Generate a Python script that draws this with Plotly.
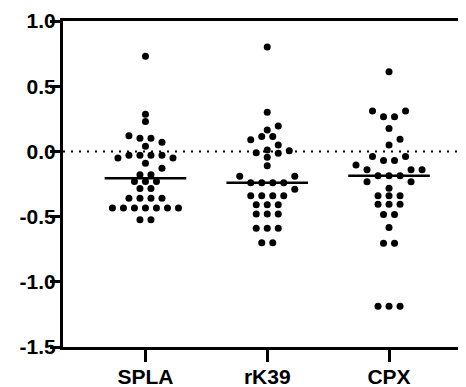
import numpy as np
import plotly.graph_objects as go

categories = ["SPLA", "rK39", "CPX"]

spla = [0.73, 0.285, 0.23, 0.12, 0.10, 0.10, 0.07, 0.04,
        -0.03, -0.03, -0.03, -0.03, -0.05, -0.05, -0.09, -0.13,
        -0.18, -0.18, -0.23, -0.23, -0.23, -0.285, -0.285,
        -0.36, -0.36, -0.36, -0.36,
        -0.435, -0.435, -0.435, -0.435, -0.435, -0.435, -0.435,
        -0.525, -0.525]

rk39 = [0.80, 0.30, 0.195, 0.165, 0.115, 0.115, 0.09, 0.05,
        0.01, 0.005, -0.01, -0.015, -0.045, -0.11, -0.19, -0.19,
        -0.24, -0.24, -0.24, -0.24, -0.29,
        -0.34, -0.34, -0.34, -0.34,
        -0.41, -0.41, -0.41, -0.48, -0.48, -0.48,
        -0.59, -0.59, -0.59, -0.70, -0.70]

cpx = [0.61, 0.31, 0.31, 0.265, 0.265, 0.175, 0.094, 0.05,
       -0.04, -0.04, -0.07, -0.07, -0.105,
       -0.14, -0.14, -0.14, -0.186, -0.186, -0.186,
       -0.232, -0.232, -0.283, -0.34, -0.34, -0.34,
       -0.405, -0.405, -0.405, -0.483, -0.483, -0.583,
       -0.705, -0.705, -1.187, -1.187, -1.187]

y_tick_vals = [-1.5, -1.0, -0.5, 0.0, 0.5, 1.0]
y_tick_text = ["-1.5", "-1.0", "-0.5", "0.0", "0.5", "1.0"]

series = [spla, rk39, cpx]

STEP = 0.0904      # horizontal dot spacing in category units
THR = 0.05         # vertical conflict threshold in data units


def swarm(vals):
    vals = np.asarray(vals, dtype=float)
    groups = {}
    for idx, v in enumerate(vals):
        groups.setdefault(round(v, 4), []).append(idx)
    order = sorted(groups.items(), key=lambda kv: (-len(kv[1]), kv[0]))
    cands = [0.0]
    for k in range(1, 30):
        cands += [k * 0.5, -k * 0.5]
    placed = []
    offs = np.zeros(len(vals))
    for y, idxs in order:
        n = len(idxs)
        conf = [px for (py, px) in placed if abs(py - y) < THR]

        def ok(c, extra):
            return all(abs(c - p) >= 0.999 for p in conf + extra)

        base = [i - (n - 1) / 2 for i in range(n)]
        opt_a = None
        for s in cands:
            pos = [b + s for b in base]
            if all(ok(p, []) for p in pos):
                opt_a = pos
                break
        opt_b = []
        for c in cands:
            if ok(c, opt_b):
                opt_b.append(c)
            if len(opt_b) == n:
                break
        best = opt_a
        if opt_a is None or sum(abs(p) for p in opt_b) < sum(abs(p) for p in opt_a):
            best = opt_b
        for idx, p in zip(idxs, sorted(best)):
            offs[idx] = p
            placed.append((y, p))
    return offs


fig = go.Figure()

fig.add_shape(type="line", xref="paper", yref="y", x0=0, x1=1, y0=0, y1=0,
              line=dict(color="black", width=2, dash="2px,6px"), layer="below")

for i, vals in enumerate(series):
    offs = swarm(vals)
    fig.add_trace(go.Scatter(
        x=i + offs * STEP, y=vals, mode="markers",
        marker=dict(color="black", size=7, line=dict(width=0)),
        showlegend=False, hoverinfo="skip"))
    med = float(np.median(vals))
    fig.add_trace(go.Scatter(
        x=[i - 0.335, i + 0.335], y=[med, med], mode="lines",
        line=dict(color="black", width=2.5),
        showlegend=False, hoverinfo="skip"))

tickfont = dict(family="Liberation Sans, Arial, sans-serif", size=21,
                color="black", weight="bold")

fig.update_layout(
    width=458, height=379, autosize=False,
    margin=dict(l=55, r=0, t=13, b=40),
    paper_bgcolor="white", plot_bgcolor="white",
    xaxis=dict(range=[-0.677, 2.632], tickmode="array",
               tickvals=[0, 1, 2], ticktext=categories,
               showline=True, linecolor="black", linewidth=3, mirror=True,
               ticks="outside", ticklen=12, tickwidth=3, tickcolor="black",
               showgrid=False, zeroline=False, tickfont=tickfont,
               ticklabelstandoff=-3),
    yaxis=dict(range=[-1.5, 1.0], tickmode="array",
               tickvals=y_tick_vals, ticktext=y_tick_text,
               showline=True, linecolor="black", linewidth=3,
               ticks="outside", ticklen=10, tickwidth=3, tickcolor="black",
               showgrid=False, zeroline=False, tickfont=tickfont,
               ticklabelstandoff=-10),
)

fig.write_html("out.html")
